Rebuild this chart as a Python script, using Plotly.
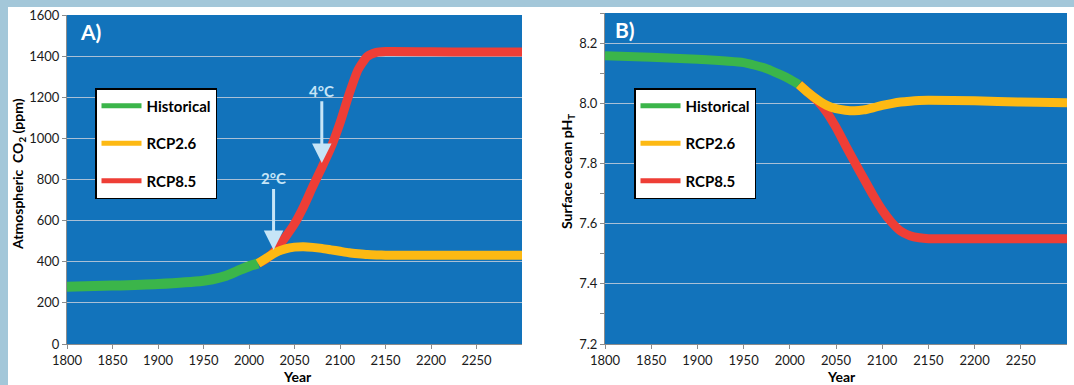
import plotly.graph_objects as go

# ---------------- data ----------------
years_hist = [1800, 1850, 1900, 1950, 1960, 1975, 1990, 2000, 2010]
co2_hist = [279, 284, 292, 308, 315, 332, 360, 378, 392]
ph_hist = [8.158, 8.153, 8.146, 8.135, 8.128, 8.115, 8.095, 8.080, 8.062]

years_proj = [2010, 2020, 2030, 2040, 2050, 2060, 2070, 2080, 2090, 2100,
              2110, 2120, 2130, 2140, 2150, 2200, 2250, 2300]
co2_rcp26 = [392, 420, 447, 463, 471, 473, 470, 465, 458, 451,
             444, 439, 435, 433, 432, 432, 432, 432]
co2_rcp85 = [392, 418, 460, 520, 585, 668, 765, 858, 955, 1075,
             1215, 1335, 1398, 1418, 1422, 1421, 1420, 1420]
ph_rcp26 = [8.062, 8.035, 8.012, 7.993, 7.982, 7.977, 7.975, 7.978, 7.985, 7.993,
            7.999, 8.004, 8.007, 8.009, 8.010, 8.008, 8.004, 8.002]
ph_rcp85 = [8.062, 8.035, 8.008, 7.970, 7.920, 7.862, 7.805, 7.750, 7.695, 7.645,
            7.605, 7.575, 7.560, 7.553, 7.550, 7.550, 7.550, 7.550]

series_names = ["Historical", "RCP2.6", "RCP8.5"]
series_colors = ["#3bb54a", "#fdb913", "#ee3e36"]

x_ticks = [1800, 1850, 1900, 1950, 2000, 2050, 2100, 2150, 2200, 2250]
co2_ticks = [0, 200, 400, 600, 800, 1000, 1200, 1400, 1600]
ph_ticks = [7.2, 7.4, 7.6, 7.8, 8.0, 8.2]
ph_ticktext = ["7.2", "7.4", "7.6", "7.8", "8.0", "8.2"]

warming_labels = ["2°C", "4°C"]
warming_years = [2027, 2080]
warming_tip = [457, 880]
warming_text_y = [805, 1232]

# ---------------- style ----------------
W, H = 1074, 385
PLOT_BG = "#1273bb"
GRID = "#a9c0d6"
LIGHT = "#c6e5f7"
FONT = "Lato, 'Open Sans', Arial, sans-serif"
LW = 9

fig = go.Figure()

def add_line(x, y, color, xa, ya, width=LW):
    fig.add_trace(go.Scatter(x=x, y=y, mode="lines",
                             line=dict(color=color, width=width, shape="spline", smoothing=0.6),
                             showlegend=False, xaxis=xa, yaxis=ya, hoverinfo="skip"))

# Panel A (red, then green, then yellow on top)
add_line(years_proj, co2_rcp85, series_colors[2], "x", "y")
add_line(years_hist, co2_hist, series_colors[0], "x", "y", LW + 1)
add_line(years_proj, co2_rcp26, series_colors[1], "x", "y")
# Panel B
add_line(years_proj, ph_rcp85, series_colors[2], "x2", "y2")
add_line(years_hist, ph_hist, series_colors[0], "x2", "y2")
add_line(years_proj, ph_rcp26, series_colors[1], "x2", "y2")

# Legend entries (one legend per panel)
for i, (name, col) in enumerate(zip(series_names, series_colors)):
    fig.add_trace(go.Scatter(x=[None], y=[None], mode="lines", name=name, line=dict(color=col, width=5),
                             legend="legend", legendgroup=f"a{i}", xaxis="x", yaxis="y"))
    fig.add_trace(go.Scatter(x=[None], y=[None], mode="lines", name=name, line=dict(color=col, width=5),
                             legend="legend2", legendgroup=f"b{i}", xaxis="x2", yaxis="y2"))

tickfont = dict(family=FONT, size=13, color="#1a1a1a")
base = dict(showline=True, linecolor="#8c8c8c", linewidth=1, ticks="outside", ticklen=4,
            tickcolor="#8c8c8c", zeroline=False, tickfont=tickfont, automargin=False)

legend_common = dict(bgcolor="white", bordercolor="black", borderwidth=1.5,
                     font=dict(family=FONT, size=15, color="black", weight="bold"),
                     traceorder="grouped", tracegroupgap=15, xanchor="left", yanchor="top",
                     itemwidth=40)

fig.update_layout(
    width=W, height=H,
    autosize=False,
    margin=dict(l=0, r=0, t=0, b=0, pad=0, autoexpand=False),
    paper_bgcolor="white",
    plot_bgcolor=PLOT_BG,
    font=dict(family=FONT),
    showlegend=True,
    xaxis=dict(domain=[67 / W, 522 / W], range=[1800, 2300], tickvals=x_ticks, anchor="y",
               showgrid=False, **base),
    yaxis=dict(domain=[41 / H, 370 / H], range=[0, 1600], tickvals=co2_ticks, anchor="x",
               showgrid=True, gridcolor=GRID, gridwidth=1, **base),
    xaxis2=dict(domain=[605 / W, 1067 / W], range=[1800, 2300], tickvals=x_ticks, anchor="y2",
                showgrid=False, **base),
    yaxis2=dict(domain=[41 / H, 372 / H], range=[7.2, 8.3], tickvals=ph_ticks, ticktext=ph_ticktext, anchor="x2",
                showgrid=True, gridcolor=GRID, gridwidth=1,
                minor=dict(dtick=0.1, tick0=7.2, ticks="outside", ticklen=4, tickcolor="#8c8c8c", showgrid=False),
                **base),
    legend=dict(x=95 / W, y=(H - 88) / H, **legend_common),
    legend2=dict(x=634 / W, y=(H - 88) / H, **legend_common),
)

shapes = [
    dict(type="rect", xref="paper", yref="paper", x0=0, x1=8 / W, y0=0, y1=1,
         fillcolor="#a3c7d9", line=dict(width=0), layer="below"),
    dict(type="rect", xref="paper", yref="paper", x0=0, x1=1, y0=(H - 7) / H, y1=1,
         fillcolor="#a3c7d9", line=dict(width=0), layer="below"),
]
fig.update_layout(shapes=shapes)

ann = []
ann.append(dict(text="<b>A)</b>", xref="x domain", yref="y domain", x=0.024, y=0.995, xanchor="left", yanchor="top",
                showarrow=False, font=dict(family=FONT, size=21, color="white")))
ann.append(dict(text="<b>B)</b>", xref="x2 domain", yref="y2 domain", x=0.018, y=0.995, xanchor="left", yanchor="top",
                showarrow=False, font=dict(family=FONT, size=21, color="white")))
for lab, xv, tip, ty in zip(warming_labels, warming_years, warming_tip, warming_text_y):
    ann.append(dict(x=xv, y=tip, ax=xv, ay=ty, xref="x", yref="y", axref="x", ayref="y",
                    text=f"<b>{lab}</b>", showarrow=True, arrowhead=2, arrowsize=1.3, arrowwidth=3,
                    arrowcolor=LIGHT, standoff=0, startstandoff=0,
                    font=dict(family=FONT, size=15, color=LIGHT)))
ann.append(dict(text="<b>Atmospheric  CO<sub>2</sub> (ppm)</b>", xref="paper", yref="paper", x=18 / W, y=(H - 174) / H,
                textangle=-90, showarrow=False, font=dict(family=FONT, size=14, color="black"),
                xanchor="center", yanchor="middle"))
ann.append(dict(text="<b>Surface ocean pH<sub>T</sub></b>", xref="paper", yref="paper", x=567 / W, y=(H - 172) / H,
                textangle=-90, showarrow=False, font=dict(family=FONT, size=14, color="black"),
                xanchor="center", yanchor="middle"))
ann.append(dict(text="<b>Year</b>", xref="paper", yref="paper", x=297 / W, y=(H - 376) / H, showarrow=False,
                font=dict(family=FONT, size=14, color="black"), xanchor="center", yanchor="middle"))
ann.append(dict(text="<b>Year</b>", xref="paper", yref="paper", x=841 / W, y=(H - 376) / H, showarrow=False,
                font=dict(family=FONT, size=14, color="black"), xanchor="center", yanchor="middle"))
fig.update_layout(annotations=ann)

fig.write_html("out.html",
               config={"displayModeBar": False, "displaylogo": False},
               post_script="document.body.style.margin='0px';document.body.style.overflow='hidden';")
